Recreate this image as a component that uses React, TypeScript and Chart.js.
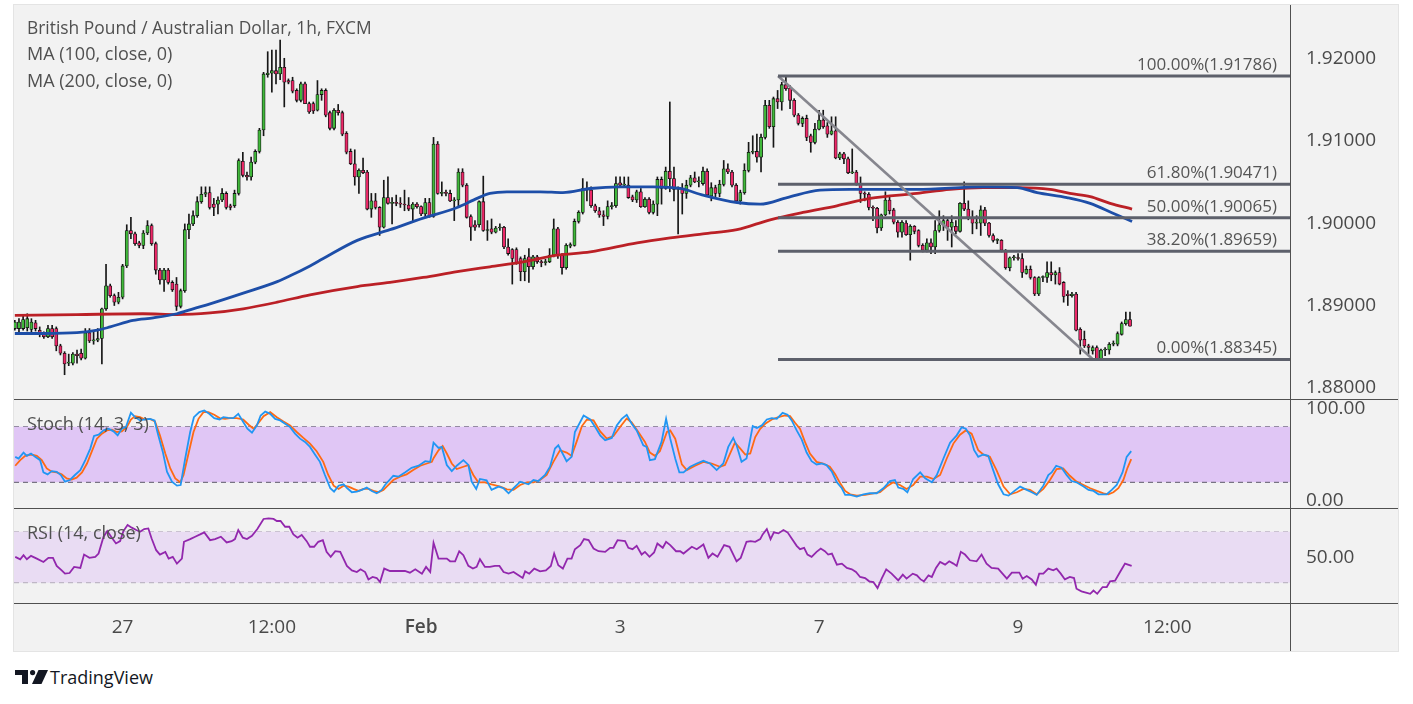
import React, { useEffect, useRef } from "react";
import { Chart, registerables } from "chart.js";

Chart.register(...registerables);

const FONT = '"Open Sans", "Noto Sans", "DejaVu Sans", sans-serif';
const TEXT = "#4a4a4a";
const DIVIDER = "#505050";
const UP = "#40b83a";
const DOWN = "#ec2868";

// x axis: trading hours, 0 = 1 Feb 00:00
const X_MIN = -98.2;
const X_MAX = 209.6;
const TIME_TICKS = [-72, -36, 0, 48, 96, 144, 180];
const TIME_LABELS = ["27", "12:00", "Feb", "3", "7", "9", "12:00"];

const PRICE_TICKS = [1.88, 1.89, 1.9, 1.91, 1.92];
const STOCH_TICKS = [0, 100];
const RSI_TICKS = [50];

const FIRST_CANDLE = -98;
const OPEN = [
  1.8872,1.8872,1.8872,1.8873,1.8871,1.8879,1.8870,1.8865,1.8862,1.8872,
  1.8872,1.8851,1.8842,1.8830,1.8830,1.8841,1.8842,1.8836,1.8867,1.8857,
  1.8858,1.8860,1.8896,1.8924,1.8912,1.8904,1.8910,1.8948,1.8991,1.8987,
  1.8976,1.8973,1.8988,1.8997,1.8975,1.8943,1.8931,1.8943,1.8928,1.8926,
  1.8899,1.8918,1.8992,1.8999,1.9009,1.9026,1.9035,1.9037,1.9023,1.9023,
  1.9028,1.9036,1.9021,1.9021,1.9036,1.9075,1.9058,1.9056,1.9074,1.9087,
  1.9113,1.9180,1.9182,1.9185,1.9181,1.9189,1.9173,1.9173,1.9161,1.9149,
  1.9169,1.9145,1.9145,1.9137,1.9156,1.9161,1.9134,1.9115,1.9137,1.9134,
  1.9109,1.9087,1.9072,1.9056,1.9064,1.9062,1.9017,1.9027,1.9019,1.8995,
  1.9031,1.9024,1.9025,1.9024,1.9023,1.9022,1.9017,1.9023,1.9020,1.9011,
  1.9025,1.9008,1.9096,1.9036,1.9037,1.9036,1.9027,1.9028,1.9062,1.9046,
  1.9008,1.8998,1.8998,1.9026,1.8991,1.8993,1.8989,1.8994,1.8995,1.8971,
  1.8968,1.8968,1.8957,1.8941,1.8959,1.8947,1.8959,1.8953,1.8952,1.8953,
  1.8961,1.8993,1.8961,1.8946,1.8972,1.8973,1.9002,1.9013,1.9042,1.9040,
  1.9021,1.9015,1.9010,1.9008,1.9020,1.9021,1.9049,1.9046,1.9046,1.9032,
  1.9028,1.9038,1.9020,1.9029,1.9013,1.9023,1.9053,1.9042,1.9063,1.9054,
  1.9041,1.9042,1.9036,1.9046,1.9055,1.9050,1.9048,1.9063,1.9033,1.9043,
  1.9036,1.9047,1.9066,1.9062,1.9046,1.9027,1.9037,1.9064,1.9086,1.9087,
  1.9080,1.9104,1.9143,1.9117,1.9151,1.9147,1.9168,1.9164,1.9149,1.9131,
  1.9121,1.9127,1.9106,1.9098,1.9114,1.9125,1.9118,1.9108,1.9112,1.9079,
  1.9084,1.9078,1.9061,1.9062,1.9048,1.9036,1.9035,1.9019,1.9018,1.8994,
  1.9010,1.9028,1.9016,1.9001,1.8989,1.9000,1.8986,1.8996,1.8991,1.8973,
  1.8967,1.8976,1.8971,1.8991,1.8998,1.9003,1.8995,1.8996,1.8990,1.9024,
  1.9017,1.9006,1.9000,1.9000,1.9016,1.9000,1.8985,1.8979,1.8979,1.8967,
  1.8946,1.8958,1.8958,1.8957,1.8939,1.8944,1.8934,1.8914,1.8934,1.8934,
  1.8940,1.8937,1.8940,1.8928,1.8914,1.8912,1.8914,1.8871,1.8859,1.8851,
  1.8845,1.8849,1.8835,1.8846,1.8846,1.8853,1.8853,1.8865,1.8878,1.8883,
];
const HIGH = [
  1.8882,1.8884,1.8888,1.8890,1.8884,1.8882,1.8874,1.8868,1.8876,1.8876,
  1.8874,1.8853,1.8844,1.8841,1.8843,1.8846,1.8847,1.8872,1.8872,1.8869,
  1.8872,1.8897,1.8950,1.8926,1.8914,1.8916,1.8950,1.8998,1.9007,1.8989,
  1.8978,1.8991,1.9003,1.8999,1.8977,1.8945,1.8945,1.8945,1.8930,1.8934,
  1.8920,1.8999,1.9011,1.9015,1.9032,1.9044,1.9044,1.9044,1.9030,1.9032,
  1.9042,1.9038,1.9023,1.9040,1.9078,1.9086,1.9062,1.9080,1.9089,1.9115,
  1.9183,1.9208,1.9210,1.9210,1.9222,1.9200,1.9175,1.9177,1.9163,1.9171,
  1.9171,1.9147,1.9147,1.9173,1.9163,1.9163,1.9136,1.9139,1.9144,1.9136,
  1.9111,1.9090,1.9089,1.9066,1.9079,1.9064,1.9036,1.9036,1.9020,1.9052,
  1.9056,1.9031,1.9034,1.9031,1.9040,1.9031,1.9025,1.9025,1.9021,1.9030,
  1.9030,1.9104,1.9099,1.9050,1.9040,1.9040,1.9031,1.9066,1.9066,1.9048,
  1.9010,1.9003,1.9027,1.9057,1.9003,1.9005,1.8996,1.8999,1.8996,1.8981,
  1.8969,1.8970,1.8959,1.8961,1.8969,1.8961,1.8961,1.8955,1.8956,1.8969,
  1.9005,1.8995,1.8963,1.8975,1.8976,1.9005,1.9015,1.9054,1.9050,1.9044,
  1.9023,1.9019,1.9015,1.9027,1.9025,1.9056,1.9056,1.9056,1.9056,1.9034,
  1.9040,1.9042,1.9031,1.9031,1.9027,1.9056,1.9056,1.9068,1.9147,1.9068,
  1.9044,1.9048,1.9052,1.9058,1.9062,1.9056,1.9068,1.9066,1.9049,1.9046,
  1.9052,1.9076,1.9072,1.9064,1.9048,1.9040,1.9072,1.9098,1.9106,1.9108,
  1.9108,1.9149,1.9149,1.9153,1.9161,1.9171,1.91786,1.9167,1.9151,1.9133,
  1.9129,1.9131,1.9108,1.9121,1.9137,1.9137,1.9122,1.9129,1.9129,1.9086,
  1.9086,1.9080,1.9090,1.9064,1.9056,1.9038,1.9037,1.9021,1.9019,1.9011,
  1.9038,1.9032,1.9018,1.9003,1.9003,1.9003,1.8998,1.8997,1.8992,1.8975,
  1.8981,1.8981,1.9003,1.9015,1.9009,1.9007,1.9009,1.9003,1.9025,1.9050,
  1.9027,1.9015,1.9009,1.9021,1.9019,1.9001,1.8987,1.8981,1.8980,1.8968,
  1.8959,1.8961,1.8963,1.8963,1.8948,1.8948,1.8935,1.8935,1.8936,1.8953,
  1.8953,1.8942,1.8946,1.8929,1.8918,1.8916,1.8916,1.8873,1.8869,1.8853,
  1.8851,1.8851,1.8847,1.8849,1.8855,1.8857,1.8868,1.8880,1.8892,1.8892,
];
const LOW = [
  1.8870,1.8865,1.8870,1.8869,1.8868,1.8869,1.8862,1.8860,1.8861,1.8860,
  1.8845,1.8840,1.8816,1.8827,1.8828,1.8830,1.8834,1.8835,1.8855,1.8853,
  1.8856,1.8829,1.8894,1.8910,1.8900,1.8902,1.8908,1.8946,1.8981,1.8973,
  1.8970,1.8969,1.8986,1.8973,1.8938,1.8926,1.8917,1.8926,1.8917,1.8894,
  1.8897,1.8916,1.8981,1.8997,1.9007,1.9024,1.9032,1.9017,1.9009,1.9011,
  1.9026,1.9017,1.9016,1.9019,1.9034,1.9056,1.9052,1.9052,1.9072,1.9085,
  1.9106,1.9177,1.9159,1.9169,1.9174,1.9141,1.9169,1.9158,1.9147,1.9147,
  1.9145,1.9133,1.9133,1.9136,1.9149,1.9129,1.9113,1.9113,1.9131,1.9106,
  1.9084,1.9071,1.9046,1.9036,1.9060,1.9016,1.9007,1.9017,1.8985,1.8994,
  1.9023,1.8999,1.9021,1.9019,1.9015,1.9015,1.9003,1.9018,1.9009,1.9007,
  1.9007,1.9007,1.9035,1.9033,1.9033,1.9026,1.9003,1.9019,1.9044,1.9006,
  1.8979,1.8991,1.8995,1.8990,1.8979,1.8987,1.8988,1.8991,1.8969,1.8961,
  1.8926,1.8950,1.8930,1.8930,1.8928,1.8944,1.8951,1.8947,1.8949,1.8952,
  1.8959,1.8957,1.8938,1.8944,1.8970,1.8972,1.9000,1.9011,1.9027,1.9019,
  1.9013,1.9007,1.8997,1.9005,1.9017,1.9019,1.9044,1.9044,1.9030,1.9026,
  1.9025,1.9019,1.9019,1.9011,1.9011,1.9009,1.9023,1.9041,1.9038,1.9027,
  1.8987,1.9011,1.9030,1.9044,1.9049,1.9044,1.9046,1.9032,1.9027,1.9032,
  1.9032,1.9045,1.9060,1.9044,1.9025,1.9023,1.9035,1.9062,1.9084,1.9074,
  1.9062,1.9102,1.9115,1.9092,1.9139,1.9137,1.9161,1.9139,1.9129,1.9119,
  1.9117,1.9100,1.9086,1.9096,1.9113,1.9115,1.9104,1.9107,1.9078,1.9077,
  1.9072,1.9060,1.9060,1.9046,1.9025,1.9027,1.9016,1.9003,1.8988,1.8991,
  1.9009,1.9011,1.8999,1.8983,1.8983,1.8985,1.8955,1.8987,1.8971,1.8965,
  1.8965,1.8963,1.8963,1.8989,1.8991,1.8979,1.8971,1.8987,1.8989,1.9015,
  1.9004,1.8987,1.8993,1.8985,1.8997,1.8983,1.8977,1.8975,1.8965,1.8944,
  1.8942,1.8955,1.8955,1.8934,1.8938,1.8932,1.8912,1.8912,1.8929,1.8928,
  1.8930,1.8926,1.8925,1.8904,1.8900,1.8910,1.8869,1.8841,1.8849,1.8841,
  1.8841,1.88345,1.8835,1.8839,1.8841,1.8851,1.8851,1.8864,1.8876,1.8875,
];
const CLOSE = [
  1.8880,1.8880,1.8883,1.8884,1.8880,1.8872,1.8865,1.8862,1.8872,1.8862,
  1.8851,1.8842,1.8829,1.8831,1.8841,1.8839,1.8836,1.8867,1.8857,1.8858,
  1.8860,1.8896,1.8924,1.8912,1.8904,1.8910,1.8948,1.8991,1.8987,1.8975,
  1.8973,1.8988,1.8997,1.8975,1.8943,1.8931,1.8943,1.8928,1.8919,1.8899,
  1.8918,1.8992,1.8999,1.9009,1.9026,1.9035,1.9037,1.9019,1.9019,1.9028,
  1.9036,1.9019,1.9019,1.9036,1.9076,1.9058,1.9056,1.9074,1.9087,1.9113,
  1.9181,1.9182,1.9185,1.9181,1.9189,1.9171,1.9171,1.9160,1.9149,1.9169,
  1.9145,1.9135,1.9136,1.9156,1.9161,1.9131,1.9115,1.9137,1.9134,1.9108,
  1.9086,1.9072,1.9056,1.9064,1.9061,1.9017,1.9027,1.9019,1.8995,1.9031,
  1.9024,1.9025,1.9024,1.9023,1.9022,1.9017,1.9023,1.9020,1.9011,1.9025,
  1.9008,1.9096,1.9036,1.9037,1.9036,1.9027,1.9028,1.9062,1.9046,1.9007,
  1.8995,1.8995,1.9026,1.8991,1.8992,1.8989,1.8994,1.8994,1.8971,1.8963,
  1.8957,1.8952,1.8941,1.8957,1.8947,1.8959,1.8953,1.8952,1.8953,1.8961,
  1.8993,1.8961,1.8946,1.8973,1.8974,1.9002,1.9013,1.9042,1.9040,1.9021,
  1.9015,1.9010,1.9008,1.9020,1.9021,1.9048,1.9046,1.9046,1.9031,1.9028,
  1.9038,1.9020,1.9029,1.9013,1.9023,1.9053,1.9042,1.9063,1.9054,1.9041,
  1.9042,1.9036,1.9046,1.9055,1.9050,1.9050,1.9063,1.9034,1.9043,1.9036,
  1.9047,1.9066,1.9062,1.9046,1.9027,1.9037,1.9064,1.9086,1.9087,1.9080,
  1.9104,1.9143,1.9117,1.9151,1.9147,1.9168,1.9163,1.9149,1.9131,1.9121,
  1.9127,1.9104,1.9098,1.9114,1.9125,1.9117,1.9108,1.9112,1.9079,1.9084,
  1.9078,1.9061,1.9062,1.9048,1.9036,1.9035,1.9019,1.9018,1.8994,1.9010,
  1.9028,1.9015,1.9001,1.8989,1.9001,1.8986,1.8996,1.8990,1.8973,1.8967,
  1.8976,1.8971,1.8991,1.8998,1.9003,1.8995,1.9001,1.8990,1.9024,1.9017,
  1.9006,1.9000,1.9001,1.9016,1.9000,1.8985,1.8979,1.8979,1.8967,1.8946,
  1.8958,1.8958,1.8957,1.8940,1.8944,1.8934,1.8914,1.8934,1.8934,1.8940,
  1.8937,1.8940,1.8926,1.8911,1.8912,1.8914,1.8870,1.8858,1.8851,1.8849,
  1.8849,1.8835,1.8846,1.8846,1.8853,1.8854,1.8866,1.8878,1.8883,1.8875,
];

// moving averages: [hour index, price]
const MA100 = [
  [-98,1.8866],[-91.2,1.8866],[-83,1.8867],[-78.1,1.8870],[-75,1.8874],[-69.5,1.8882],
  [-64.6,1.8885],[-58.9,1.8890],[-55,1.8896],[-50.9,1.8902],[-42.9,1.8915],[-34.7,1.8929],
  [-31.6,1.8936],[-26.8,1.8948],[-23.6,1.8957],[-15.4,1.8979],[-7.5,1.8992],[0.5,1.9006],
  [8.7,1.9019],[13.5,1.9030],[16.6,1.9036],[20.7,1.9038],[28.7,1.9038],[34.2,1.9037],
  [40.8,1.9042],[48,1.9044],[56,1.9044],[62.5,1.9042],[68,1.9034],[76.2,1.9025],
  [81.8,1.9023],[88.3,1.9031],[96.2,1.9040],[103.5,1.9041],[119.6,1.9041],[135.6,1.9044],
  [143.8,1.9043],[148.6,1.9037],[155.8,1.9031],[161.4,1.9024],[166.9,1.9012],[171.5,1.9002],
];
const MA200 = [
  [-98,1.8888],[-83,1.8889],[-67.1,1.8890],[-58.9,1.8889],[-50.9,1.8891],[-42.9,1.8896],
  [-34.7,1.8904],[-26.8,1.8913],[-15.4,1.8923],[-7.5,1.8928],[0.5,1.8934],[8.7,1.8941],
  [16.6,1.8947],[24.6,1.8953],[32.8,1.8961],[40.8,1.8965],[52.1,1.8976],[60.1,1.8982],
  [68,1.8987],[76.2,1.8992],[84.2,1.9004],[92.1,1.9013],[100.3,1.9021],[108.3,1.9030],
  [119.6,1.9036],[127.6,1.9041],[135.6,1.9043],[143.8,1.9043],[151.7,1.9041],[156.5,1.9036],
  [161.4,1.9032],[166.2,1.9024],[171.5,1.9017],
];

// Fibonacci retracement drawing
const FIB_START = 86.1;
const FIB_LEVELS = [1.91786, 1.90471, 1.90065, 1.89659, 1.88345];
const FIB_NAMES = ["100.00%", "61.80%", "50.00%", "38.20%", "0.00%"];
const TREND_LINE = [[86.1, 1.91786], [162.1, 1.88345]];

const STOCH_BANDS = [80, 20];
const RSI_BANDS = [70, 30];

const STOCH_K = [
  [-97.9,47.5],[-97.1,45.7],[-95.9,52.1],[-95.1,48.6],[-94.1,51.1],[-93.1,47.5],[-91.9,43.9],[-91.1,30.7],[-90.1,28.6],[-89.1,32.1],
  [-87.9,31.4],[-86.9,27.9],[-85.9,20.7],[-84.7,22.5],[-83.5,27.9],[-82.2,33.2],[-81.0,43.9],[-79.8,56.4],[-78.9,70.0],[-77.8,71.4],
  [-76.6,76.0],[-75.4,77.8],[-74.2,75.0],[-73.2,70.7],[-72.2,77.8],[-71.2,79.6],[-70.0,95.0],[-69.0,90.3],[-67.8,86.8],[-66.6,87.8],
  [-65.4,88.5],[-64.3,86.8],[-63.4,70.7],[-62.3,52.8],[-61.3,31.4],[-60.1,20.7],[-58.9,16.4],[-58.0,17.1],[-56.9,45.7],[-55.7,74.3],
  [-54.8,90.3],[-53.5,95.7],[-52.3,97.5],[-51.1,93.9],[-49.9,89.3],[-48.6,87.8],[-47.7,90.3],[-46.5,89.6],[-45.3,89.3],[-44.1,93.9],
  [-42.9,85.0],[-41.9,77.8],[-40.8,73.6],[-39.6,81.4],[-38.7,92.1],[-37.6,96.4],[-36.4,93.9],[-35.2,88.5],[-34.0,86.8],[-32.8,83.2],
  [-31.6,79.6],[-30.4,72.5],[-29.2,67.1],[-28.0,63.6],[-26.8,58.2],[-25.6,50.0],[-24.4,42.1],[-23.2,27.9],[-21.9,13.6],[-21.0,10.0],
  [-19.9,16.4],[-18.7,17.9],[-17.8,13.6],[-16.7,9.3],[-15.5,10.0],[-14.3,11.8],[-13.1,14.3],[-11.9,10.7],[-10.7,8.2],[-9.5,11.8],
  [-8.7,17.1],[-6.7,27.1],[-5.5,26.1],[-3.9,30.7],[-2.3,35.7],[-0.6,37.9],[1.0,42.8],[2.2,42.1],[3.0,62.8],[4.2,57.1],
  [5.0,58.2],[6.2,38.6],[7.4,32.1],[8.6,37.9],[10.2,43.9],[11.4,38.8],[12.2,20.7],[13.3,12.9],[14.2,23.6],[15.8,22.1],
  [17.0,11.8],[18.7,15.4],[19.9,13.6],[21.1,8.2],[22.3,13.6],[23.9,20.7],[25.9,17.9],[27.1,22.5],[28.3,21.4],[29.9,27.9],
  [31.1,36.8],[32.3,56.4],[33.1,60.0],[35.1,42.8],[36.3,47.5],[37.1,74.3],[39.2,92.1],[40.8,87.8],[42.0,79.6],[43.2,70.7],
  [44.4,65.4],[46.0,67.9],[47.2,81.4],[48.4,88.5],[49.6,92.9],[50.8,83.2],[52.0,76.0],[53.6,60.0],[54.4,58.2],[55.2,43.9],
  [56.4,45.0],[58.0,63.6],[59.1,88.5],[60.1,67.1],[61.3,45.7],[62.3,30.7],[63.3,30.7],[64.9,36.8],[66.5,40.3],[68.1,43.2],
  [69.7,40.3],[71.3,33.2],[72.9,40.3],[74.1,58.2],[75.3,67.9],[76.1,60.0],[77.3,42.1],[78.5,45.7],[80.0,80.7],[81.0,78.6],
  [82.2,81.4],[83.4,87.8],[84.6,89.3],[85.8,88.5],[87.2,95.0],[88.4,92.9],[89.4,86.8],[90.6,76.0],[91.8,66.4],[93.0,52.1],
  [94.2,42.8],[95.4,39.3],[96.6,40.3],[97.8,38.6],[99.1,31.4],[100.3,20.0],[101.5,13.6],[102.3,6.4],[103.5,6.4],[105.1,4.6],
  [106.7,7.1],[108.3,8.2],[109.9,8.2],[111.5,13.6],[113.1,21.4],[114.3,22.5],[115.1,14.3],[116.3,12.9],[117.3,9.3],[118.7,23.6],
  [120.4,30.7],[121.6,24.3],[123.2,20.0],[124.4,27.9],[126.0,45.7],[127.6,62.8],[129.2,70.7],[130.4,79.3],[131.4,77.8],[132.4,70.7],
  [133.4,54.6],[134.4,47.5],[135.6,50.0],[136.8,48.6],[138.0,33.2],[139.2,17.9],[140.5,7.1],[141.7,5.7],[142.9,10.0],[144.5,15.4],
  [146.1,11.8],[147.3,9.3],[148.5,6.4],[150.1,16.4],[151.3,27.9],[152.1,30.7],[153.2,37.9],[154.5,35.7],[155.7,27.9],[156.9,21.4],
  [158.1,20.0],[159.8,15.4],[161.0,11.8],[162.2,10.7],[163.4,7.1],[165.4,7.1],[166.6,11.8],[167.8,17.1],[169.2,30.7],[170.2,47.5],
  [171.3,53.6],
];
const STOCH_D = [
  [-97.9,37.9],[-96.7,43.9],[-95.5,48.6],[-94.1,50.0],[-92.7,48.6],[-91.5,43.9],[-90.3,35.0],[-89.1,31.4],[-87.9,30.7],[-86.7,28.6],
  [-85.5,24.3],[-84.3,22.9],[-83.1,25.0],[-81.8,30.7],[-80.6,40.3],[-79.4,53.6],[-78.2,67.1],[-77.0,72.5],[-75.8,76.0],[-74.6,76.8],
  [-73.4,74.3],[-72.2,75.0],[-71.0,79.6],[-70.0,87.8],[-69.0,91.4],[-67.8,90.3],[-66.6,87.8],[-65.4,88.5],[-64.2,85.7],[-63.0,70.7],
  [-61.7,51.1],[-60.5,35.0],[-59.3,24.3],[-58.1,20.0],[-57.3,27.9],[-56.1,51.1],[-54.9,74.3],[-53.7,88.5],[-52.5,95.7],[-51.3,95.7],
  [-49.9,92.9],[-48.6,89.3],[-47.3,88.5],[-46.1,89.3],[-44.5,89.3],[-42.9,87.8],[-41.6,82.1],[-40.4,77.8],[-39.2,84.3],[-38.0,91.4],
  [-36.4,95.7],[-34.8,90.3],[-33.2,85.7],[-31.6,81.4],[-30.0,74.3],[-28.4,67.9],[-26.8,61.8],[-25.2,53.6],[-23.6,42.1],[-22.4,27.9],
  [-21.1,16.4],[-19.9,12.9],[-18.7,16.4],[-17.5,15.4],[-16.3,12.9],[-15.1,10.7],[-13.9,12.9],[-12.7,12.9],[-11.5,10.7],[-10.3,9.3],
  [-9.1,11.8],[-8.3,15.4],[-6.7,22.5],[-5.1,26.1],[-3.5,28.6],[-1.9,33.2],[-0.2,37.9],[1.4,40.3],[2.6,42.1],[3.0,46.0],
  [4.2,54.6],[5.2,59.3],[6.2,51.1],[7.4,40.3],[8.6,34.3],[10.2,36.8],[11.4,38.6],[12.6,27.9],[13.8,20.0],[15.4,20.0],
  [17.0,17.9],[19.1,15.4],[20.7,12.5],[22.3,11.8],[23.9,17.1],[25.5,20.0],[27.1,20.0],[28.7,22.5],[30.3,27.9],[31.9,42.1],
  [33.5,54.6],[35.1,52.1],[36.3,48.6],[37.5,63.6],[38.8,80.7],[40.0,87.8],[41.6,86.8],[43.2,75.0],[44.8,67.1],[46.4,70.0],
  [48.0,79.6],[49.6,88.9],[50.8,84.6],[52.4,74.3],[54.0,63.6],[55.2,52.1],[56.4,48.6],[57.6,53.6],[59.3,74.3],[60.1,76.0],
  [61.3,67.1],[62.9,39.3],[64.1,33.2],[66.1,37.9],[68.1,42.1],[70.1,40.3],[72.1,36.8],[73.3,38.6],[75.7,62.8],[77.0,56.4],
  [78.2,50.0],[79.4,51.1],[80.6,68.9],[81.8,77.8],[83.0,83.2],[84.6,87.8],[86.2,90.3],[87.8,92.1],[89.0,91.4],[90.2,84.3],
  [91.4,77.8],[92.6,63.6],[93.8,51.1],[95.4,42.1],[97.0,40.3],[98.6,36.8],[99.9,28.6],[101.1,18.9],[102.3,10.7],[103.5,7.1],
  [105.1,5.7],[107.1,6.4],[109.1,8.2],[110.7,9.3],[112.3,15.4],[113.9,20.0],[115.5,17.1],[117.1,12.9],[118.7,17.1],[120.4,26.1],
  [122.0,26.1],[123.6,23.6],[125.2,27.9],[126.8,45.7],[128.4,61.8],[130.0,71.4],[131.4,76.0],[132.8,72.5],[134.4,54.6],[135.6,50.0],
  [137.2,47.5],[138.8,33.2],[140.5,15.4],[142.1,7.1],[143.7,9.3],[145.3,12.9],[146.9,11.8],[148.5,7.1],[150.1,12.9],[151.7,22.5],
  [153.3,34.3],[154.9,35.0],[156.5,27.1],[158.1,20.7],[159.8,17.1],[161.4,13.6],[163.0,10.7],[164.6,8.2],[165.8,7.1],[167.0,9.3],
  [168.2,13.6],[169.4,22.5],[170.4,35.7],[171.3,45.0],
];
const RSI = [
  [-97.9,50.3],[-96.7,48.4],[-95.9,51.6],[-95.1,48.4],[-94.1,51.1],[-92.7,48.9],[-91.1,46.3],[-89.9,49.5],[-88.8,49.5],[-87.9,43.2],
  [-86.7,39.7],[-85.9,37.1],[-84.8,37.6],[-83.7,42.4],[-82.2,41.6],[-81.3,52.1],[-80.0,49.5],[-78.6,50.3],[-77.8,52.9],[-76.6,66.1],
  [-75.7,70.5],[-74.6,65.3],[-73.6,60.8],[-72.6,62.6],[-71.8,70.5],[-70.8,75.3],[-69.8,73.2],[-68.7,71.3],[-67.8,70.0],[-66.8,72.1],
  [-65.8,72.6],[-65.0,64.7],[-63.9,55.5],[-63.0,52.1],[-61.7,54.2],[-60.9,48.9],[-59.9,50.3],[-58.9,45.0],[-57.7,48.9],[-57.2,62.1],
  [-55.7,64.2],[-54.5,66.1],[-53.3,67.9],[-52.3,69.5],[-50.9,63.4],[-49.7,64.2],[-48.3,66.1],[-46.9,61.6],[-45.7,62.6],[-44.9,64.2],
  [-44.1,71.3],[-43.0,65.3],[-42.0,64.2],[-40.8,66.8],[-39.5,72.1],[-38.0,80.0],[-36.8,80.5],[-35.6,80.0],[-34.8,78.4],[-33.9,78.4],
  [-32.8,73.9],[-31.8,73.9],[-30.8,67.9],[-29.8,65.3],[-28.8,67.4],[-27.6,62.6],[-26.8,58.2],[-25.8,58.2],[-24.8,62.1],[-23.7,63.4],
  [-22.8,54.2],[-21.8,50.3],[-20.7,54.7],[-19.5,54.2],[-17.9,43.2],[-16.7,39.7],[-15.5,38.4],[-14.6,40.5],[-13.5,38.4],[-12.7,32.6],
  [-11.7,34.5],[-10.7,33.7],[-9.9,30.5],[-8.9,41.1],[-7.5,39.2],[-5.9,39.2],[-3.9,39.2],[-2.7,37.9],[-1.4,40.5],[0.2,37.1],
  [1.2,42.4],[2.2,38.4],[3.0,61.3],[4.2,48.9],[6.2,48.9],[7.0,46.8],[8.2,46.8],[9.2,54.7],[10.2,51.6],[11.4,43.2],
  [12.5,41.1],[13.4,42.4],[14.2,48.4],[15.4,42.4],[16.6,42.4],[17.8,43.2],[18.9,43.2],[19.9,38.4],[21.1,37.1],[22.3,38.4],
  [23.5,35.8],[24.5,33.7],[25.1,38.9],[26.1,37.1],[27.3,41.1],[28.7,38.9],[30.1,39.7],[31.3,43.2],[32.1,52.9],[33.1,43.7],
  [34.2,41.1],[35.3,48.9],[36.3,48.9],[37.1,56.3],[38.4,59.5],[39.3,64.2],[40.4,63.4],[41.6,56.8],[42.8,54.7],[44.4,54.2],
  [45.6,57.4],[46.4,57.4],[47.4,63.4],[49.2,62.6],[50.0,57.4],[51.0,56.3],[52.0,58.9],[53.2,52.1],[54.0,54.2],[55.1,50.3],
  [56.2,53.7],[57.0,60.8],[58.3,57.4],[59.1,62.1],[60.1,59.5],[61.5,54.7],[62.5,54.7],[63.3,52.9],[65.3,58.2],[66.5,56.3],
  [68.1,60.0],[69.3,49.5],[70.3,52.9],[71.5,50.3],[73.1,59.5],[74.4,58.2],[76.1,46.8],[77.1,49.5],[78.5,62.1],[79.5,62.6],
  [80.6,62.1],[81.8,64.2],[82.4,67.9],[83.4,72.1],[84.3,64.2],[85.1,69.5],[86.2,68.7],[87.4,71.3],[88.4,69.5],[89.4,64.7],
  [90.6,58.9],[91.4,56.3],[92.4,57.4],[93.2,52.1],[94.2,50.3],[95.4,54.2],[96.4,56.8],[97.4,54.7],[98.2,52.1],[99.1,52.9],
  [100.3,44.2],[101.5,45.0],[102.7,41.6],[103.9,40.5],[104.9,38.4],[105.9,34.5],[107.1,33.7],[108.1,31.1],[109.1,30.5],[110.1,25.8],
  [111.1,33.2],[112.2,40.5],[113.5,37.1],[115.1,31.8],[116.2,36.3],[117.1,33.2],[118.6,37.1],[119.6,35.8],[120.5,32.6],[121.3,31.1],
  [122.4,35.8],[123.2,34.5],[124.2,41.6],[125.2,46.3],[126.4,44.2],[127.4,46.8],[128.4,45.0],[129.2,43.2],[130.2,54.2],[131.2,52.1],
  [132.4,47.6],[134.0,46.8],[135.2,52.1],[136.4,45.0],[137.6,41.6],[139.2,41.1],[141.3,33.2],[142.5,37.9],[144.3,37.9],[145.1,33.2],
  [146.1,35.3],[147.3,32.6],[148.3,28.4],[149.1,37.1],[150.1,37.1],[151.3,41.1],[152.5,39.7],[153.3,41.1],[154.3,37.1],[155.3,32.6],
  [156.5,34.5],[157.5,33.7],[158.1,25.3],[159.3,23.2],[160.6,22.1],[161.4,21.3],[162.2,23.9],[163.1,21.3],[164.4,26.6],[165.4,26.6],
  [166.2,31.1],[167.4,31.6],[168.6,38.4],[169.8,45.0],[171.4,43.2],
];

const pts = (a: number[][]) => a.map(([x, y]) => ({ x, y }));

const AXIS_W = 108;

function noPad(s: any) {
  s.paddingTop = 0;
  s.paddingBottom = 0;
  s.paddingLeft = 0;
  s.paddingRight = 0;
}

function yAxis(min: number, max: number, ticks: number[], digits: number) {
  return {
    position: "right",
    min,
    max,
    beginAtZero: false,
    grid: { display: false, drawTicks: false },
    border: { display: false },
    afterFit: (s: any) => { s.width = AXIS_W; noPad(s); },
    afterBuildTicks: (s: any) => { s.ticks = ticks.map((v) => ({ value: v })); },
    ticks: {
      autoSkip: false,
      padding: 16,
      color: TEXT,
      font: { family: FONT, size: 19 },
      callback: (v: any) => Number(v).toFixed(digits),
    },
  };
}

function xAxis(show: boolean) {
  return {
    type: "linear",
    min: X_MIN,
    max: X_MAX,
    offset: false,
    display: show,
    grid: { display: false, drawTicks: false, offset: false },
    border: { display: false },
    afterFit: (s: any) => { if (show) s.height = 48; noPad(s); },
    afterBuildTicks: (s: any) => { s.ticks = TIME_TICKS.map((v) => ({ value: v })); },
    ticks: {
      autoSkip: false,
      maxRotation: 0,
      padding: 13,
      color: TEXT,
      font: (c: any) => ({ family: FONT, size: 19, weight: c.tick && c.tick.value === 0 ? "600" : "400" }),
      callback: (v: any) => TIME_LABELS[TIME_TICKS.indexOf(Number(v))] ?? "",
    },
  };
}

function framePlugin(top: boolean, bottom: boolean) {
  return {
    id: "frame",
    afterDraw(chart: any) {
      const { ctx, chartArea, width, height } = chart;
      ctx.save();
      ctx.strokeStyle = DIVIDER;
      ctx.lineWidth = 1;
      ctx.beginPath();
      const xr = Math.round(chartArea.right) + 0.5;
      ctx.moveTo(xr, 0);
      ctx.lineTo(xr, height);
      if (top) { ctx.moveTo(0, 0.5); ctx.lineTo(width, 0.5); }
      if (bottom) {
        const yb = Math.round(chartArea.bottom) + 0.5;
        ctx.moveTo(0, yb);
        ctx.lineTo(width, yb);
      }
      ctx.stroke();
      ctx.restore();
    },
  };
}

const fibLabelPlugin = {
  id: "fibLabels",
  afterDatasetsDraw(chart: any) {
    const { ctx, chartArea, scales } = chart;
    ctx.save();
    ctx.font = `17px ${FONT}`;
    ctx.fillStyle = "#555555";
    ctx.textAlign = "right";
    ctx.textBaseline = "middle";
    FIB_LEVELS.forEach((lv, n) => {
      const y = scales.y.getPixelForValue(lv);
      ctx.fillText(`${FIB_NAMES[n]}(${lv.toFixed(5)})`, chartArea.right - 13, y - 11);
    });
    ctx.restore();
  },
};

function bandSets(levels: number[], dash: string, fill: string) {
  return [
    {
      type: "line",
      data: pts([[X_MIN, levels[0]], [X_MAX, levels[0]]]),
      borderColor: dash,
      borderWidth: 1,
      borderDash: [5, 4],
      pointRadius: 0,
      fill: false,
      order: 10,
    },
    {
      type: "line",
      data: pts([[X_MIN, levels[1]], [X_MAX, levels[1]]]),
      borderColor: dash,
      borderWidth: 1,
      borderDash: [5, 4],
      pointRadius: 0,
      fill: "-1",
      backgroundColor: fill,
      order: 9,
    },
  ];
}

const common = {
  responsive: false,
  animation: false,
  events: [],
  layout: { padding: 0 },
  plugins: { legend: { display: false }, tooltip: { enabled: false } },
};

export default function App() {
  const mainRef = useRef<HTMLCanvasElement>(null);
  const stochRef = useRef<HTMLCanvasElement>(null);
  const rsiRef = useRef<HTMLCanvasElement>(null);

  useEffect(() => {
    Chart.defaults.font.family = FONT;
    const charts: Chart[] = [];
    const xs = OPEN.map((_, k) => FIRST_CANDLE + k);
    const isUp = (k: number) => CLOSE[k] >= OPEN[k];

    const fibSets = FIB_LEVELS.map((lv) => ({
      type: "line",
      data: pts([[FIB_START, lv], [X_MAX, lv]]),
      borderColor: "#5d606b",
      borderWidth: 3,
      pointRadius: 0,
      order: 1,
    }));

    charts.push(
      new Chart(mainRef.current as HTMLCanvasElement, {
        type: "bar",
        data: {
          datasets: [
            {
              type: "bar",
              data: xs.map((x, k) => ({ x, y: [LOW[k], HIGH[k]] })),
              backgroundColor: "#161616",
              barThickness: 1,
              grouped: false,
              order: 6,
            },
            {
              type: "bar",
              data: xs.map((x, k) => ({ x, y: [OPEN[k], CLOSE[k]] })),
              backgroundColor: (c: any) => (isUp(c.dataIndex) ? UP : DOWN),
              borderColor: "#111111",
              borderWidth: 0.8,
              borderSkipped: false,
              barThickness: 3.2,
              minBarLength: 1,
              grouped: false,
              order: 5,
            },
            {
              type: "line",
              data: pts(MA200),
              borderColor: "#bb2026",
              borderWidth: 2.8,
              pointRadius: 0,
              cubicInterpolationMode: "monotone",
              order: 3,
            },
            {
              type: "line",
              data: pts(MA100),
              borderColor: "#1d4ea8",
              borderWidth: 2.8,
              pointRadius: 0,
              cubicInterpolationMode: "monotone",
              order: 2,
            },
            ...fibSets,
            {
              type: "line",
              data: pts(TREND_LINE),
              borderColor: "#86868e",
              borderWidth: 2.6,
              pointRadius: 0,
              order: 1,
            },
          ],
        } as any,
        options: {
          ...common,
          scales: {
            x: xAxis(false),
            y: yAxis(1.878653, 1.926468, PRICE_TICKS, 5),
          },
        } as any,
        plugins: [framePlugin(false, false), fibLabelPlugin],
      })
    );

    charts.push(
      new Chart(stochRef.current as HTMLCanvasElement, {
        type: "line",
        data: {
          datasets: [
            ...bandSets(STOCH_BANDS, "#5e5a6a", "#e0c6f5"),
            {
              data: pts(STOCH_D),
              borderColor: "#ff6a13",
              borderWidth: 1.8,
              pointRadius: 0,
              order: 2,
            },
            {
              data: pts(STOCH_K),
              borderColor: "#2196f3",
              borderWidth: 1.8,
              pointRadius: 0,
              order: 1,
            },
          ],
        } as any,
        options: {
          ...common,
          scales: {
            x: xAxis(false),
            y: yAxis(-7.7, 109.9, STOCH_TICKS, 2),
          },
        } as any,
        plugins: [framePlugin(true, false)],
      })
    );

    charts.push(
      new Chart(rsiRef.current as HTMLCanvasElement, {
        type: "line",
        data: {
          datasets: [
            ...bandSets(RSI_BANDS, "#b3abb9", "#e9dcf3"),
            {
              data: pts(RSI),
              borderColor: "#9227ad",
              borderWidth: 1.8,
              pointRadius: 0,
              order: 1,
            },
          ],
        } as any,
        options: {
          ...common,
          scales: {
            x: xAxis(true),
            y: yAxis(14.1, 88.6, RSI_TICKS, 2),
          },
        } as any,
        plugins: [framePlugin(true, true)],
      })
    );

    return () => charts.forEach((c) => c.destroy());
  }, []);

  const label = (text: string, top: number, size = 18): React.ReactElement => (
    <div
      style={{
        position: "absolute",
        left: 27,
        top: top - 12,
        height: 24,
        lineHeight: "24px",
        fontSize: size,
        color: "#505050",
        whiteSpace: "nowrap",
        fontFamily: FONT,
      }}
    >
      {text}
    </div>
  );

  const abs = (left: number, top: number, w: number, h: number) => ({
    position: "absolute" as const,
    left,
    top,
    width: w,
    height: h,
  });

  return (
    <div style={{ ...abs(0, 0, 1413, 704), background: "#ffffff", overflow: "hidden", fontFamily: FONT }}>
      <div style={{ ...abs(13, 4, 1386, 648), boxSizing: "border-box", border: "1px solid #e4e4e4", background: "#f2f2f2" }} />
      <canvas ref={mainRef} width={1384} height={394} style={abs(14, 5, 1384, 394)} />
      <canvas ref={stochRef} width={1384} height={109} style={abs(14, 399, 1384, 109)} />
      <canvas ref={rsiRef} width={1384} height={143} style={abs(14, 508, 1384, 143)} />
      {label("British Pound / Australian Dollar, 1h, FXCM", 27, 17.4)}
      {label("MA (100, close, 0)", 53)}
      {label("MA (200, close, 0)", 80)}
      {label("Stoch (14, 3, 3)", 423)}
      {label("RSI (14, close)", 532)}
      <svg style={abs(15, 670, 33, 14)} viewBox="0 0 33 14">
        <path d="M0 0h13v14h-6V5H0z" fill="#131722" />
        <circle cx="17.6" cy="2.6" r="2.6" fill="#131722" />
        <path d="M23.5 0h9.5l-6.5 14h-9.5z" fill="#131722" />
      </svg>
      <div
        style={{
          position: "absolute",
          left: 50,
          top: 665,
          height: 24,
          lineHeight: "24px",
          fontSize: 18,
          fontWeight: 500,
          color: "#131722",
          fontFamily: FONT,
          whiteSpace: "nowrap",
        }}
      >
        TradingView
      </div>
    </div>
  );
}
